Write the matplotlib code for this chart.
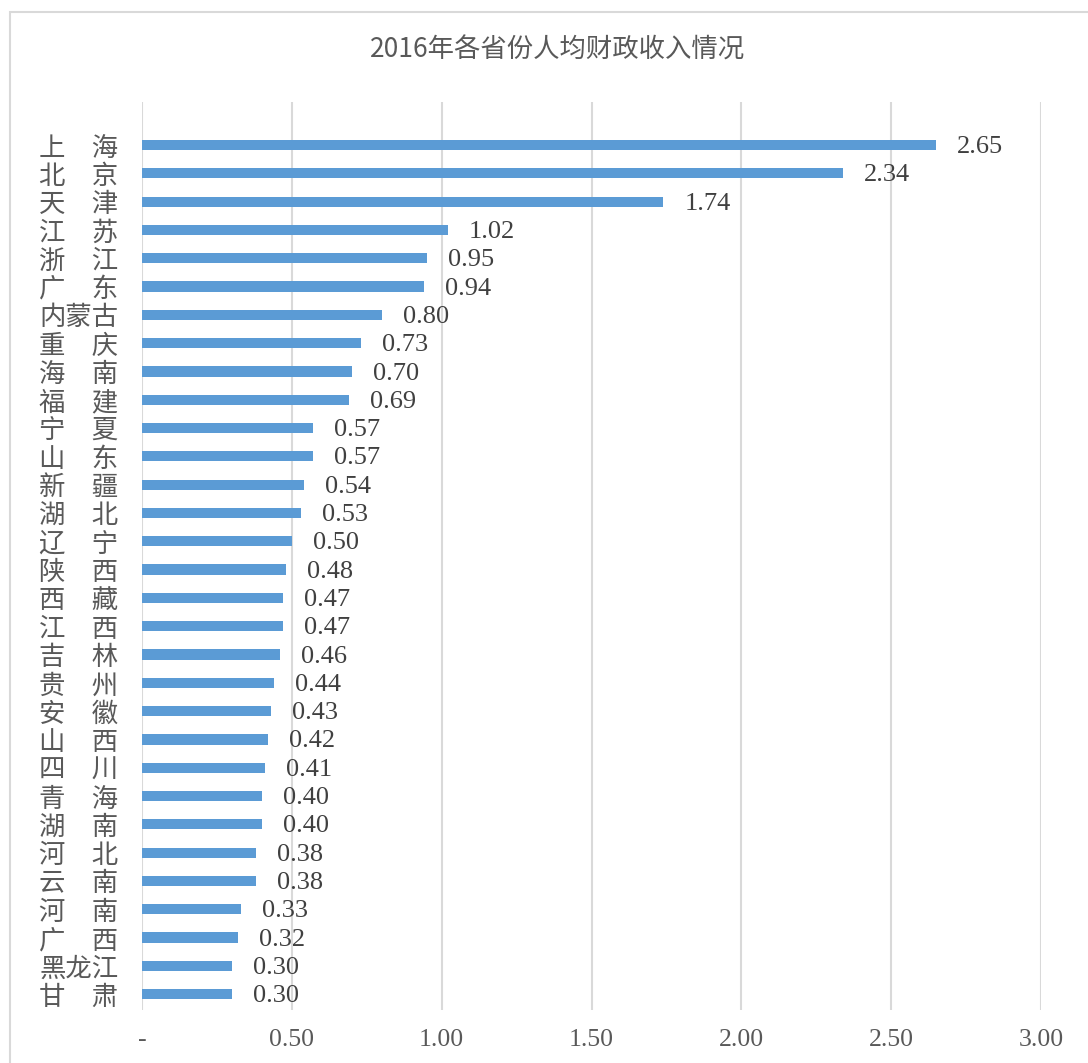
import matplotlib
matplotlib.use("Agg")
import matplotlib.pyplot as plt
from matplotlib.patches import Rectangle

provinces = ["上\u3000海", "北\u3000京", "天\u3000津", "江\u3000苏", "浙\u3000江", "广\u3000东",
             "内蒙古", "重\u3000庆", "海\u3000南", "福\u3000建", "宁\u3000夏", "山\u3000东",
             "新\u3000疆", "湖\u3000北", "辽\u3000宁", "陕\u3000西", "西\u3000藏", "江\u3000西",
             "吉\u3000林", "贵\u3000州", "安\u3000徽", "山\u3000西", "四\u3000川", "青\u3000海",
             "湖\u3000南", "河\u3000北", "云\u3000南", "河\u3000南", "广\u3000西", "黑龙江", "甘\u3000肃"]
values = [2.65, 2.34, 1.74, 1.02, 0.95, 0.94, 0.80, 0.73, 0.70, 0.69, 0.57, 0.57,
          0.54, 0.53, 0.50, 0.48, 0.47, 0.47, 0.46, 0.44, 0.43, 0.42, 0.41, 0.40,
          0.40, 0.38, 0.38, 0.33, 0.32, 0.30, 0.30]
xticks = [0, 0.5, 1.0, 1.5, 2.0, 2.5, 3.0]
xticklabels = ["-", "0.50", "1.00", "1.50", "2.00", "2.50", "3.00"]
title = "2016年各省份人均财政收入情况"

W, H = 1088, 1063
fig = plt.figure(figsize=(W / 100, H / 100), dpi=100)
fig.patch.set_facecolor("white")

# chart border
fig.patches.append(Rectangle((10 / W, -0.05), 1.2, 1 - 12 / H + 0.05, transform=fig.transFigure,
                             fill=False, edgecolor="#d9d9d9", linewidth=1.5))

left, right, top, bottom = 142, 1041, 102, 1010
ax = fig.add_axes([left / W, 1 - bottom / H, (right - left) / W, (bottom - top) / H])

gray = "#595959"
ypos = list(range(len(provinces)))
ax.barh(ypos, values, height=0.36, color="#5b9bd5", zorder=3)
ax.set_ylim(len(provinces) - 1 + 0.56, -1.52)
ax.set_xlim(0, 3.0)

for y, v in zip(ypos, values):
    ax.annotate(f"{v:.2f}", (v, y), xytext=(15, -1.5), textcoords="offset points",
                va="center", ha="left", fontsize=19, color="#404040",
                family=["Liberation Serif"])

ax.set_yticks(ypos)
ax.set_yticklabels(provinces, family=["Noto Sans CJK SC", "DejaVu Sans"], fontsize=19, color=gray)
ax.set_xticks(xticks)
ax.set_xticklabels(xticklabels, family=["Liberation Serif"], fontsize=18.5, color=gray)
ax.tick_params(axis="both", length=0)
ax.tick_params(axis="x", pad=14)
ax.tick_params(axis="y", pad=17)

ax.grid(axis="x", color="#d9d9d9", linewidth=1.5, zorder=0)
for s in ax.spines.values():
    s.set_visible(False)

fig.text(558 / W, 1 - 50 / H, title, ha="center", va="center", fontsize=19,
         color=gray, family=["Noto Sans CJK SC", "DejaVu Sans"])

fig.savefig("out.png", dpi=100, facecolor="white")
